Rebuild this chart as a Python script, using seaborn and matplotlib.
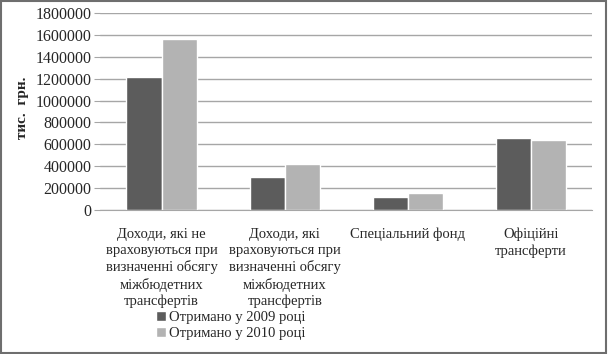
import pandas as pd
import seaborn as sns
import matplotlib.pyplot as plt
from matplotlib.patches import Rectangle

categories = [
    "Доходи, які не\nвраховуються при\nвизначенні обсягу\nміжбюдетних\nтрансфертів",
    "Доходи, які\nвраховуються при\nвизначенні обсягу\nміжбюдетних\nтрансфертів",
    "Спеціальний фонд",
    "Офіційні\nтрансферти",
]
series = ["Отримано у 2009 році", "Отримано у 2010 році"]
values_2009 = [1215000, 300000, 122000, 658000]
values_2010 = [1562000, 420000, 152000, 640000]

df = pd.DataFrame({
    "cat": categories * 2,
    "series": [series[0]] * 4 + [series[1]] * 4,
    "value": values_2009 + values_2010,
})

sns.set_style("white")
plt.rcParams["font.family"] = ["Liberation Serif", "DejaVu Serif"]

fig = plt.figure(figsize=(6.08, 3.54), dpi=100)
ax = fig.add_axes([0.1645, 0.407, 0.81, 0.556])

sns.barplot(data=df, x="cat", y="value", hue="series",
            palette=["#5c5c5c", "#b3b3b3"], width=0.57, saturation=1,
            ax=ax, legend=True)

ax.set_ylim(0, 1800000)
ax.set_yticks(range(0, 1800001, 200000))
ax.set_yticklabels([str(v) for v in range(0, 1800001, 200000)], fontsize=11.5)
ax.yaxis.grid(True, color="#a6a6a6", linewidth=1)
ax.set_axisbelow(True)
ax.tick_params(axis="y", length=4, color="#a6a6a6", pad=2, left=True)
ax.tick_params(axis="x", length=0, pad=13)
for lbl in ax.get_xticklabels():
    lbl.set_fontsize(10.5)
    lbl.set_linespacing(1.3)
    lbl.set_verticalalignment("top")
for s in ["top", "right", "left"]:
    ax.spines[s].set_visible(False)
ax.spines["bottom"].set_color("#a6a6a6")
ax.set_xlabel("")
ax.set_ylabel("тис.  грн.", fontsize=11, fontweight="bold")
ax.yaxis.set_label_coords(-0.145, 0.52)

h, l = ax.get_legend_handles_labels()
ax.legend_.remove()
fig.legend(h, l, loc="center", bbox_to_anchor=(0.38, 0.08), frameon=False,
           fontsize=10.5, handlelength=0.7, handleheight=0.7,
           handletextpad=0.2, labelspacing=0.2, borderpad=0)

fig.patches.append(Rectangle((0.002, 0.003), 0.995, 0.994, transform=fig.transFigure,
                             fill=False, edgecolor="#6e6e6e", linewidth=1.5))

fig.savefig("out.png", dpi=100)
